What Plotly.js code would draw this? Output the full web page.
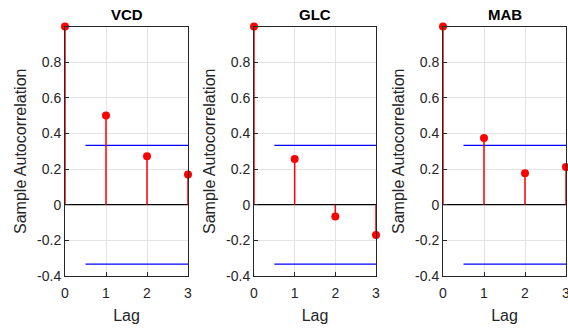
<!DOCTYPE html>
<html>
<head>
<meta charset="utf-8">
<script src="https://cdn.plot.ly/plotly-3.0.1.min.js"></script>
<style>
  html, body { margin: 0; padding: 0; background: #fff; }
  #chart { width: 568px; height: 328px; }
</style>
</head>
<body>
<div id="chart"></div>
<script>
// Sample autocorrelation for three process variables, lags 0..3
const lags = [0, 1, 2, 3];
const seriesNames = ['VCD', 'GLC', 'MAB'];
const acfVCD = [1.0, 0.501, 0.272, 0.170];
const acfGLC = [1.0, 0.256, -0.066, -0.170];
const acfMAB = [1.0, 0.374, 0.177, 0.211];
const confBound = 0.333;          // approximate 95% confidence bound
const boundLags = [0.5, 3];       // bounds drawn from lag 0.5 to the last lag
const yTicks = [-0.4, -0.2, 0, 0.2, 0.4, 0.6, 0.8];
const yTickText = ['-0.4', '-0.2', '0', '0.2', '0.4', '0.6', '0.8'];

const allAcf = [acfVCD, acfGLC, acfMAB];
const W = 568, H = 328;
const xDomains = [[65 / W, 188 / W], [254 / W, 376 / W], [443 / W, 566 / W]];
const yDomain = [(H - 276) / H, (H - 26.5) / H];
const font = 'Liberation Sans, Arial, Helvetica, sans-serif';

const traces = [];
const layout = {
  width: W, height: H,
  margin: {l: 0, r: 0, t: 0, b: 0},
  paper_bgcolor: '#fff', plot_bgcolor: '#fff',
  showlegend: false,
  font: {family: font, color: '#262626', size: 14},
  annotations: []
};

allAcf.forEach((acf, i) => {
  const n = i === 0 ? '' : String(i + 1);
  const xa = 'x' + n, ya = 'y' + n;

  // zero reference line
  traces.push({x: [lags[0], lags[lags.length - 1]], y: [0, 0], xaxis: xa, yaxis: ya,
    mode: 'lines', line: {color: '#000', width: 1.2}, hoverinfo: 'skip'});

  // confidence bounds
  traces.push({x: boundLags, y: [confBound, confBound], xaxis: xa, yaxis: ya,
    mode: 'lines', line: {color: '#0000ff', width: 1.2}, hoverinfo: 'skip'});
  traces.push({x: boundLags, y: [-confBound, -confBound], xaxis: xa, yaxis: ya,
    mode: 'lines', line: {color: '#0000ff', width: 1.2}, hoverinfo: 'skip'});

  // stems
  const sx = [], sy = [];
  lags.forEach((l, k) => { sx.push(l, l, null); sy.push(0, acf[k], null); });
  traces.push({x: sx, y: sy, xaxis: xa, yaxis: ya, mode: 'lines',
    line: {color: '#ff0000', width: 1.5}, cliponaxis: false, hoverinfo: 'skip'});

  // stem heads
  traces.push({x: lags, y: acf, xaxis: xa, yaxis: ya, mode: 'markers',
    marker: {color: '#ff0000', size: 8}, cliponaxis: false, name: seriesNames[i]});

  layout['xaxis' + n] = {
    domain: xDomains[i], anchor: ya, range: [0, 3],
    tickvals: lags, ticktext: lags.map(String),
    showgrid: true, gridcolor: '#e3e3e3', gridwidth: 1, zeroline: false,
    showline: true, linecolor: '#262626', linewidth: 1, mirror: true,
    ticks: 'inside', ticklen: 4, tickcolor: '#262626',
    ticklabeloverflow: 'allow', ticklabelstandoff: 4,
    tickfont: {family: font, size: 14, color: '#262626'},
    title: {text: 'Lag', font: {family: font, size: 16, color: '#262626'}, standoff: 10}
  };
  layout['yaxis' + n] = {
    domain: yDomain, anchor: xa, range: [-0.4, 1.0],
    tickvals: yTicks, ticktext: yTickText,
    showgrid: true, gridcolor: '#e3e3e3', gridwidth: 1, zeroline: false,
    showline: true, linecolor: '#262626', linewidth: 1, mirror: true,
    ticks: 'inside', ticklen: 4, tickcolor: '#262626',
    tickfont: {family: font, size: 14, color: '#262626'},
    title: {text: 'Sample Autocorrelation', font: {family: font, size: 16, color: '#262626'}, standoff: 6}
  };

  layout.annotations.push({
    text: '<b>' + seriesNames[i] + '</b>', xref: 'paper', yref: 'paper',
    x: (xDomains[i][0] + xDomains[i][1]) / 2, xanchor: 'center',
    y: yDomain[1], yanchor: 'bottom',
    yshift: 2, showarrow: false, font: {family: font, size: 15, color: '#000'}
  });
});

Plotly.newPlot('chart', traces, layout, {staticPlot: true, displayModeBar: false});
</script>
</body>
</html>
